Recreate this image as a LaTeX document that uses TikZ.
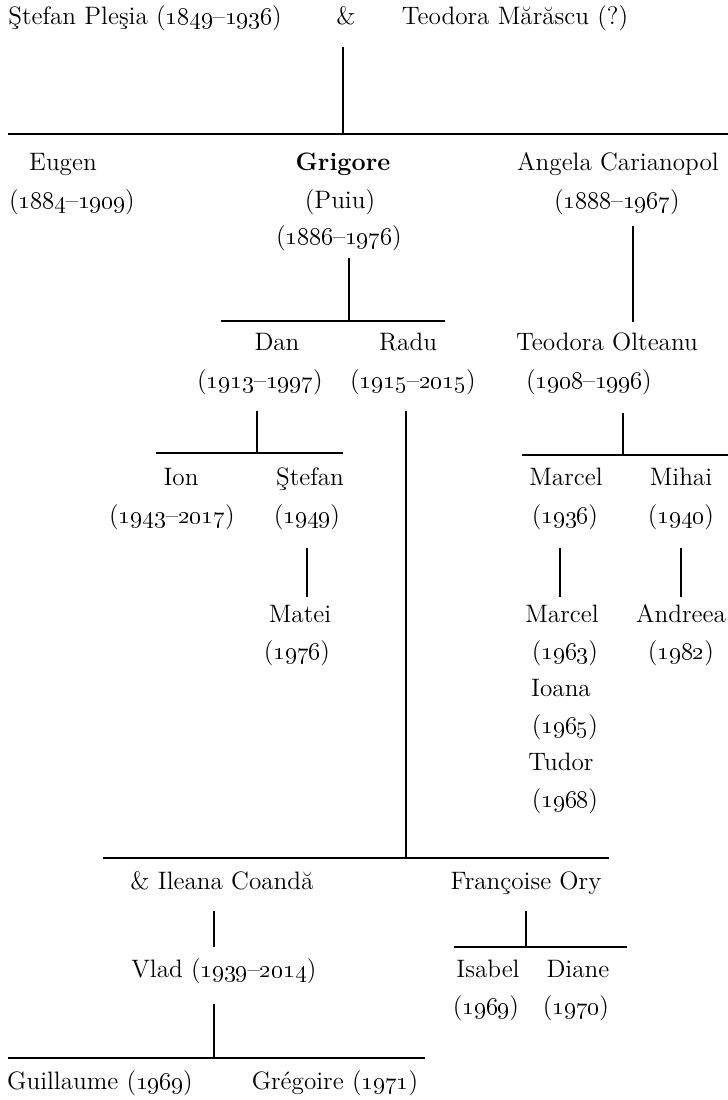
\documentclass[tikz,border=0pt]{standalone}
\usetikzlibrary{positioning,calc}
\newcommand\yr[1]{\oldstylenums{#1}}

\begin{document}
\begin{tikzpicture}[x=0.5pt,y=-0.5pt,
	every node/.style={inner sep=0pt,anchor=mid,font=\fontsize{12.6}{15}\selectfont},
	bar/.style={line width=0.6pt}]
	\useasboundingbox (0,0) rectangle (728,1100);
	% parents
	\node (sp) at (145,20) {Ştefan Pleşia (\yr{1849}–\yr{1936})};
	\node (amp) at (346,20) {\&};
	\node (tm) at (515,20) {Teodora Mărăscu (?)};
	\coordinate (b1) at (343,134);
	\draw[bar] (8,134) -- (728,134);
	\draw[bar] (b1) -- ++(0,-87);
	% children
	\node (eug) at (63,166) {Eugen};
	\node (eugY) at (72,204) {(\yr{1884}–\yr{1909})};
	\node (gri) at (343,166) {\textbf{Grigore}};
	\node (griN) at (340,204) {(Puiu)};
	\node (griY) at (339,240) {(\yr{1886}–\yr{1976})};
	\node (ang) at (618,166) {Angela Carianopol};
	\node (angY) at (617,204) {(\yr{1888}–\yr{1967})};
	\coordinate (b2) at (349,321);
	\draw[bar] (221,321) -- (445,321);
	\draw[bar] (b2) -- ++(0,-63);
	\coordinate (b3) at (633,322);
	\draw[bar] (b3) -- ++(0,-96);
	% grandchildren
	\node (dan) at (277,346) {Dan};
	\node (danY) at (260,384) {(\yr{1913}–\yr{1997})};
	\node (rad) at (408,346) {Radu};
	\node (radY) at (413,384) {(\yr{1915}–\yr{2015})};
	\node (teo) at (607,346) {Teodora Olteanu};
	\node (teoY) at (589,384) {(\yr{1908}–\yr{1996})};
	\coordinate (b4) at (257,453);
	\draw[bar] (156,453) -- (343,453);
	\draw[bar] (b4) -- ++(0,-42);
	\coordinate (b6) at (623,455);
	\draw[bar] (522,455) -- (728,455);
	\draw[bar] (b6) -- ++(0,-42);
	% Dan's sons
	\node (ion) at (181,481) {Ion};
	\node (ionY) at (172,519) {(\yr{1943}–\yr{2017})};
	\node (ste) at (310,481) {Ştefan};
	\node (steY) at (307,519) {(\yr{1949})};
	\node (mat) at (300,618) {Matei};
	\node (matY) at (297,655) {(\yr{1976})};
	\coordinate (b7) at (307,597);
	\draw[bar] (b7) -- ++(0,-49);
	% Teodora's sons
	\node (mar) at (566,481) {Marcel};
	\node (marY) at (565,519) {(\yr{1936})};
	\node (mih) at (681,481) {Mihai};
	\node (mihY) at (681,519) {(\yr{1940})};
	\coordinate (b8) at (560,597);
	\coordinate (b9) at (681,597);
	\draw[bar] (b8) -- ++(0,-49);
	\draw[bar] (b9) -- ++(0,-49);
	\node (mar2) at (562,618) {Marcel};
	\node (mar2Y) at (565,655) {(\yr{1963})};
	\node (ioa) at (561,692) {Ioana};
	\node (ioaY) at (565,729) {(\yr{1965})};
	\node (tud) at (561,766) {Tudor};
	\node (tudY) at (565,803) {(\yr{1968})};
	\node (and) at (681,618) {Andreea};
	\node (andY) at (681,655) {(\yr{1982})};
	% Radu
	\coordinate (b5) at (406,858);
	\draw[bar] (103,858) -- (609,858);
	\draw[bar] (b5) -- ++(0,-447);
	\node (ile) at (222,885) {\& Ileana Coandă};
	\node (fra) at (526,885) {Françoise Ory};
	\coordinate (b10) at (214,947);
	\draw[bar] (b10) -- ++(0,-36);
	\coordinate (b11) at (526,947);
	\draw[bar] (454,947) -- (627,947);
	\draw[bar] (b11) -- ++(0,-36);
	\node (vla) at (224,973) {Vlad (\yr{1939}–\yr{2014})};
	\node (isa) at (488,973) {Isabel};
	\node (isaY) at (486,1010) {(\yr{1969})};
	\node (dia) at (578,973) {Diane};
	\node (diaY) at (576,1010) {(\yr{1970})};
	\coordinate (b12) at (214,1058);
	\draw[bar] (8,1058) -- (425,1058);
	\draw[bar] (b12) -- ++(0,-54);
	\node (gui) at (100,1085) {Guillaume (\yr{1969})};
	\node (gre) at (335,1085) {Grégoire (\yr{1971})};
\end{tikzpicture}
\end{document}
